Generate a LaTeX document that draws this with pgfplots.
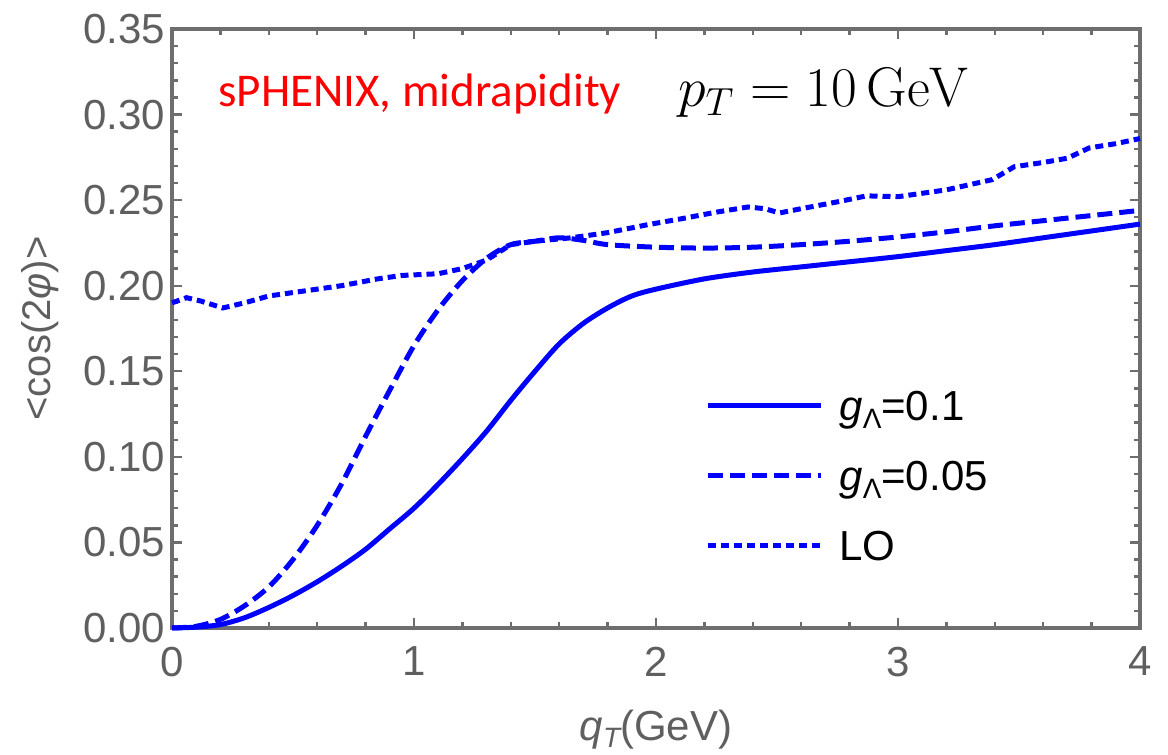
\RequirePackage{fix-cm}
\documentclass[border=0pt]{standalone}
\usepackage[no-math]{fontspec}
\setmainfont{Liberation Sans}
\newfontfamily\carlito{Carlito}
\usepackage{pgfplots}
\pgfplotsset{compat=1.18}
\definecolor{axgray}{RGB}{95,95,95}
\definecolor{frgray}{RGB}{110,110,110}
\definecolor{lblue}{RGB}{0,0,255}
\newcommand{\lstrut}{\rule[-5pt]{0pt}{20pt}}
\begin{document}
\begin{tikzpicture}
\useasboundingbox (-86pt,-63.5pt) rectangle (498pt,314pt);
\begin{axis}[
  at={(0pt,0pt)}, anchor=south west,
  scale only axis, width=484pt, height=299.5pt,
  xmin=0, xmax=4, ymin=0, ymax=0.35,
  xtick={0,1,2,3,4}, xticklabels={0,1,2,3,4},
  ytick={0,0.05,0.10,0.15,0.20,0.25,0.30,0.35},
  yticklabels={0.00,0.05,0.10,0.15,0.20,0.25,0.30,0.35},
  minor x tick num=4, minor y tick num=4,
  tick align=inside,
  major tick length=5pt, minor tick length=3pt,
  every tick/.style={frgray, line width=1.2pt},
  axis line style={frgray, line width=2.2pt},
  ticklabel style={font=\fontsize{21}{25}\selectfont, text=axgray},
  xticklabel style={yshift=-6pt},
  xlabel={\textit{q}\raisebox{-0.35ex}{\fontsize{14}{14}\selectfont\itshape T}(GeV)},
  xlabel style={at={(axis description cs:0.5,0)}, anchor=base, yshift=-56pt,
    text=axgray, font=\fontsize{21}{25}\selectfont},
  ylabel={<cos(2\textit{φ})>},
  ylabel style={at={(axis description cs:-0.1364,0.5)}, anchor=center,
    text=axgray, font=\fontsize{20}{24}\selectfont},
  clip=false,
  legend image code/.code={\draw[#1] (0pt,1pt) -- (56.5pt,1pt);},
  legend cell align=left,
  legend style={draw=none, fill=none, inner sep=0pt,
    at={(axis cs:2.2025,0.1412)}, anchor=north west,
    font=\fontsize{21}{25}\selectfont, row sep=14.5pt,
    /tikz/every odd column/.append style={column sep=6pt}},
]
\addplot[lblue, line width=2.5pt, smooth] coordinates {
(0,0) (0.1,0.0005) (0.2,0.002) (0.3,0.006) (0.4,0.012) (0.5,0.019) (0.6,0.027)
(0.7,0.036) (0.8,0.046) (0.9,0.058) (1.0,0.070) (1.1,0.084) (1.2,0.099) (1.3,0.115)
(1.4,0.133) (1.5,0.150) (1.6,0.166) (1.7,0.178) (1.8,0.187) (1.9,0.194) (2.0,0.198)
(2.2,0.204) (2.4,0.208) (2.6,0.211) (2.8,0.214) (3.0,0.217) (3.2,0.2205) (3.4,0.224)
(3.6,0.228) (3.8,0.232) (4.0,0.236)};
\addlegendentry{\lstrut\textit{g}\raisebox{-0.35ex}{\fontsize{14}{14}\selectfont Λ}=0.1}
\addplot[lblue, line width=2.5pt, dash pattern=on 7.5pt off 3.5pt, smooth] coordinates {
(0,0) (0.1,0.001) (0.2,0.005) (0.3,0.013) (0.4,0.024) (0.5,0.040) (0.6,0.060)
(0.7,0.084) (0.8,0.112) (0.9,0.139) (1.0,0.165) (1.1,0.186) (1.2,0.203) (1.3,0.216)
(1.4,0.224) (1.5,0.226) (1.6,0.228) (1.7,0.2265) (1.8,0.224) (2.0,0.2225) (2.2,0.222)
(2.4,0.2225) (2.6,0.224) (2.8,0.226) (3.0,0.2285) (3.2,0.2315) (3.4,0.235) (3.6,0.238)
(3.8,0.241) (4.0,0.244)};
\addlegendentry{\lstrut\textit{g}\raisebox{-0.35ex}{\fontsize{14}{14}\selectfont Λ}=0.05}
\addplot[lblue, line width=2.5pt, dash pattern=on 4pt off 2.5pt] coordinates {
(0,0.190) (0.06,0.193) (0.12,0.191) (0.21,0.187) (0.3,0.190) (0.4,0.194) (0.55,0.197)
(0.7,0.200) (0.85,0.204) (0.95,0.206) (1.1,0.207) (1.2,0.210) (1.3,0.215) (1.4,0.224)
(1.5,0.226) (1.65,0.228) (1.8,0.231) (1.96,0.2355) (2.1,0.239) (2.25,0.243) (2.38,0.246)
(2.45,0.245) (2.51,0.2425) (2.6,0.245) (2.75,0.249) (2.87,0.2525) (3.0,0.252) (3.2,0.256)
(3.39,0.262) (3.48,0.2695) (3.6,0.272) (3.70,0.2745) (3.79,0.2805) (3.9,0.283) (4.0,0.286)};
\addlegendentry{\lstrut LO}
\node[anchor=base west, inner sep=0pt, text=red, font=\carlito\fontsize{23.5}{28}\selectfont]
  at (axis cs:0.19,0.3045) {sPHENIX, midrapidity};
\node[anchor=base west, inner sep=0pt, font=\fontsize{28}{33}\selectfont]
  at (axis cs:2.09,0.3045) {$p_T = 10\,\mathrm{GeV}$};
\end{axis}
\end{tikzpicture}
\end{document}
